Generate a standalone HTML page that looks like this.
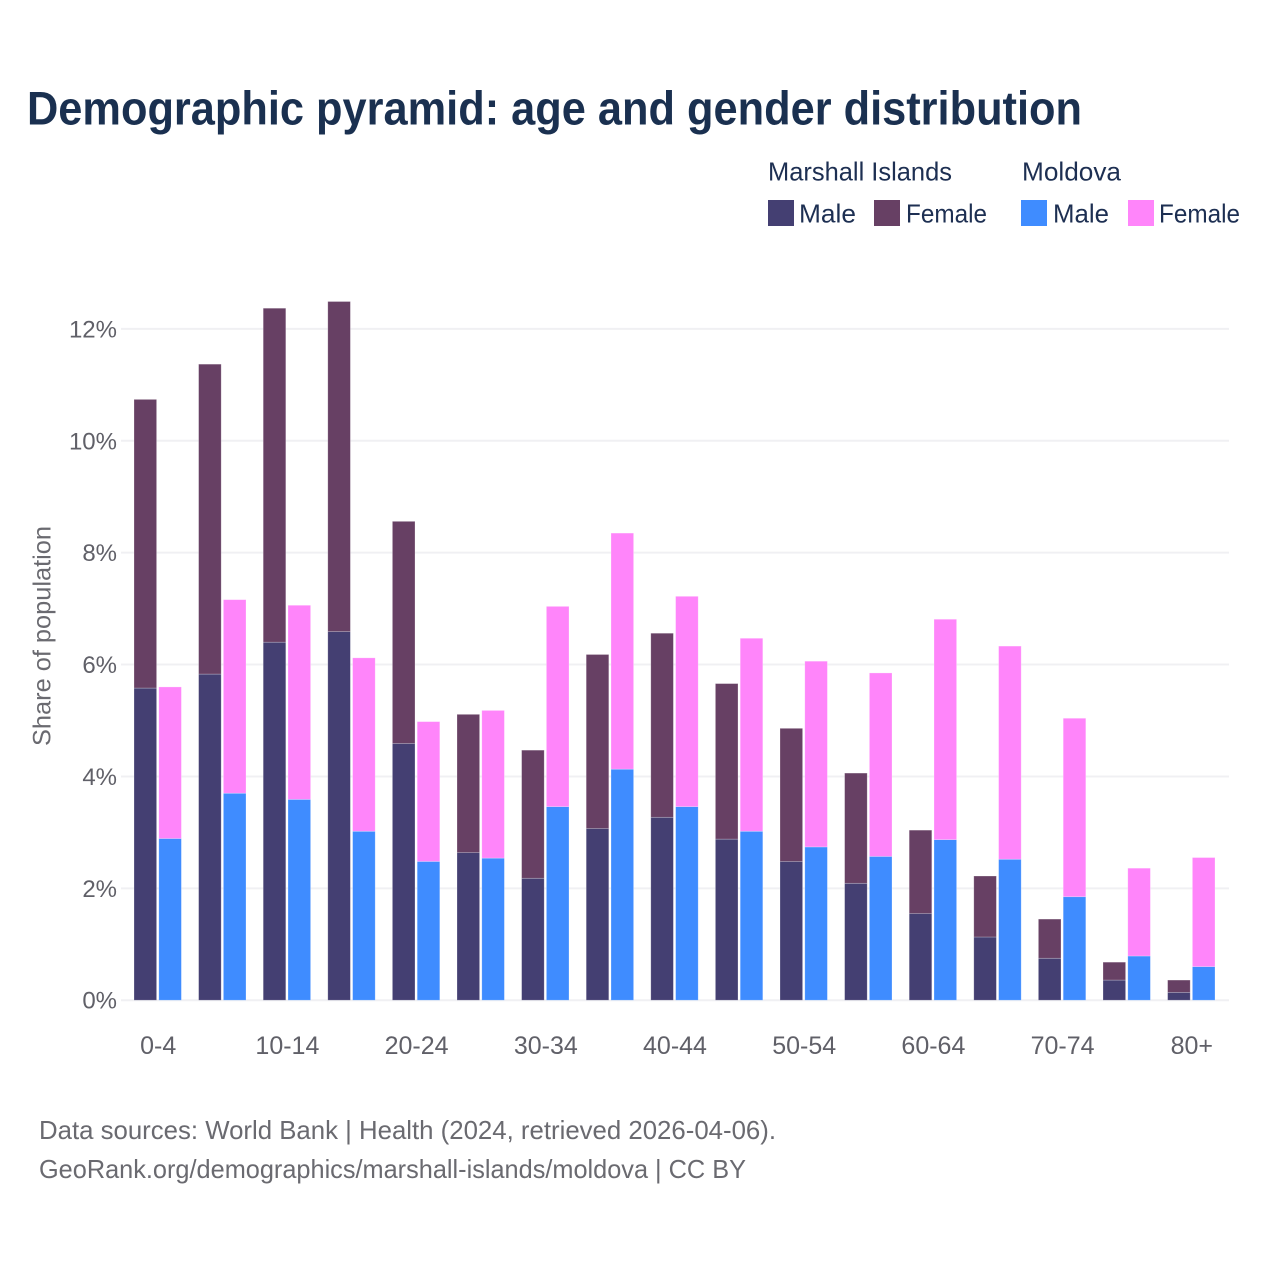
<!DOCTYPE html>
<html lang="en">
<head>
<meta charset="utf-8">
<title>Demographic pyramid: age and gender distribution</title>
<style>
html,body{margin:0;padding:0;background:#fff;}
svg{display:block;font-family:"Liberation Sans",sans-serif;}
</style>
</head>
<body>
<svg id="chart" xmlns="http://www.w3.org/2000/svg" width="1280" height="1280" viewBox="0 0 1280 1280">
  <rect x="0" y="0" width="1280" height="1280" fill="#ffffff"/>
  <text x="27" y="124.5" font-size="47" font-weight="700" fill="#1a3050" textLength="1055" lengthAdjust="spacingAndGlyphs">Demographic pyramid: age and gender distribution</text>

  <g font-size="26" fill="#1d2f52">
    <text x="768" y="180.5" textLength="184" lengthAdjust="spacingAndGlyphs">Marshall Islands</text>
    <text x="1022" y="180.5" textLength="99" lengthAdjust="spacingAndGlyphs">Moldova</text>
    <rect x="768" y="200" width="26" height="26" fill="#443f72"/>
    <text x="799" y="222.5" textLength="57" lengthAdjust="spacingAndGlyphs">Male</text>
    <rect x="874" y="200" width="26" height="26" fill="#674064"/>
    <text x="906" y="222.5" textLength="81" lengthAdjust="spacingAndGlyphs">Female</text>
    <rect x="1021" y="200" width="26" height="26" fill="#3f8cff"/>
    <text x="1053" y="222.5" textLength="56" lengthAdjust="spacingAndGlyphs">Male</text>
    <rect x="1128" y="200" width="26" height="26" fill="#ff85fa"/>
    <text x="1159" y="222.5" textLength="81" lengthAdjust="spacingAndGlyphs">Female</text>
  </g>

  <g id="grid"></g>
  <g id="bars"></g>
  <g id="yticks"></g>
  <g id="xticks"></g>

  <text transform="translate(50.5,746) rotate(-90)" x="0" y="0" font-size="25" fill="#6a6a70" textLength="220" lengthAdjust="spacingAndGlyphs">Share of population</text>

  <text x="39" y="1139" font-size="26" fill="#6a6a70" textLength="737" lengthAdjust="spacingAndGlyphs">Data sources: World Bank | Health (2024, retrieved 2026-04-06).</text>
  <text x="39" y="1178" font-size="26" fill="#6a6a70" textLength="707" lengthAdjust="spacingAndGlyphs">GeoRank.org/demographics/marshall-islands/moldova | CC BY</text>
</svg>
<script>
const categories = ["0-4","5-9","10-14","15-19","20-24","25-29","30-34","35-39","40-44","45-49","50-54","55-59","60-64","65-69","70-74","75-79","80+"];
const marshallMale = [5.58,5.83,6.40,6.59,4.59,2.64,2.18,3.07,3.27,2.88,2.48,2.09,1.55,1.13,0.75,0.36,0.14];
const marshallFemale = [5.16,5.54,5.97,5.90,3.97,2.47,2.29,3.11,3.29,2.78,2.38,1.97,1.49,1.09,0.70,0.32,0.22];
const moldovaMale = [2.89,3.70,3.59,3.02,2.48,2.54,3.46,4.13,3.46,3.02,2.74,2.57,2.87,2.52,1.85,0.79,0.60];
const moldovaFemale = [2.71,3.46,3.47,3.10,2.50,2.64,3.58,4.22,3.76,3.45,3.32,3.28,3.94,3.81,3.19,1.57,1.95];
const yTickValues = [0,2,4,6,8,10,12];
const yTickLabels = ["0%","2%","4%","6%","8%","10%","12%"];
const xTickLabels = ["0-4","10-14","20-24","30-34","40-44","50-54","60-64","70-74","80+"];

const NS = "http://www.w3.org/2000/svg";
function yScale(v){ return 1000.2 - v * 55.94; }
function xGroup(i){ return 134 + i * 64.6; }
const barW = 22.6;
const barGap = 2.2;

function make(tag, attrs, parent){
  const el = document.createElementNS(NS, tag);
  for (const k in attrs) el.setAttribute(k, attrs[k]);
  parent.appendChild(el);
  return el;
}

const gridG = document.getElementById("grid");
const barsG = document.getElementById("bars");
const yG = document.getElementById("yticks");
const xG = document.getElementById("xticks");

yTickValues.forEach(function(v, i){
  const line = make("line", {x1:121, x2:1229, y1:yScale(v), y2:yScale(v), stroke:"#f0f0f3", "stroke-width":2}, gridG);
  
  
  const t = make("text", {x:117, y:yScale(v)+8.5, "text-anchor":"end", "font-size":24, fill:"#606068"}, yG);
  
  
  t.textContent = yTickLabels[i];
});

function segment(x, base, val, color){
  const top = yScale(base + val);
  const r = make("rect", {x:x, y:top, width:barW, height:yScale(base)-top, fill:color, stroke:"#ffffff", "stroke-opacity":0.35, "stroke-width":0.7}, barsG);
  return r;
}

categories.forEach(function(c, i){
  const x0 = xGroup(i);
  const x1 = x0 + barW + barGap;
  const a = segment(x0, 0, marshallMale[i], "#443f72");
  
  
  const b = segment(x0, marshallMale[i], marshallFemale[i], "#674064");
  
  
  const d = segment(x1, 0, moldovaMale[i], "#3f8cff");
  
  
  const e = segment(x1, moldovaMale[i], moldovaFemale[i], "#ff85fa");
  
  
});

xTickLabels.forEach(function(label){
  const i = categories.indexOf(label);
  const t = make("text", {x:xGroup(i)+barW+barGap/2+0.5, y:1054, "text-anchor":"middle", "font-size":25, fill:"#606068"}, xG);
  
  
  t.textContent = label;
});
</script>
</body>
</html>
